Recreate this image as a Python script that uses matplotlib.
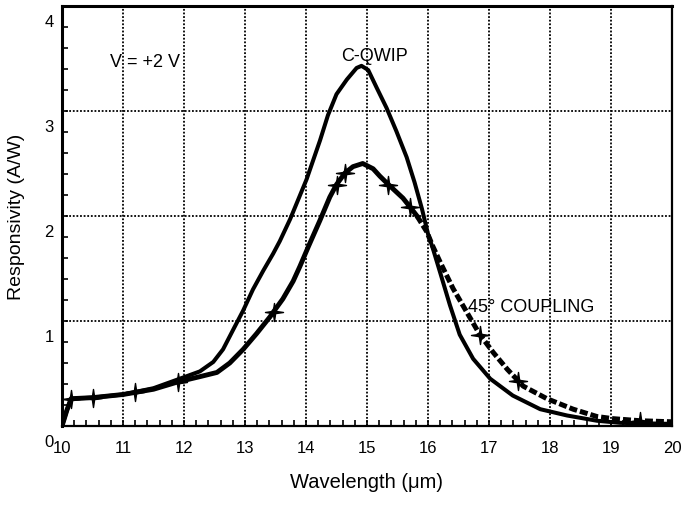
import matplotlib
matplotlib.use("Agg")
import matplotlib.pyplot as plt
import matplotlib.transforms as mtransforms
from matplotlib.path import Path
import numpy as np

plt.rcParams['font.family'] = ['Liberation Sans', 'DejaVu Sans']

# C-QWIP (solid)
cq_x = [10.0, 10.08, 10.15, 10.5, 11.0, 11.5, 11.93, 12.26, 12.48, 12.64, 12.80, 12.97, 13.13,
        13.30, 13.46, 13.57, 13.74, 14.01, 14.23, 14.36, 14.50, 14.67, 14.83, 14.91, 15.02,
        15.16, 15.32, 15.48, 15.65, 15.78, 15.90, 16.0, 16.08, 16.20, 16.36, 16.52, 16.74,
        17.02, 17.39, 17.84, 18.28, 18.77, 19.15, 20.0]
cq_y = [0.0, 0.15, 0.26, 0.27, 0.30, 0.36, 0.45, 0.52, 0.61, 0.73, 0.91, 1.10, 1.30,
        1.48, 1.64, 1.76, 1.97, 2.35, 2.72, 2.96, 3.16, 3.30, 3.41, 3.43, 3.39,
        3.22, 3.03, 2.81, 2.56, 2.32, 2.07, 1.83, 1.69, 1.46, 1.15, 0.87, 0.64,
        0.45, 0.29, 0.16, 0.10, 0.05, 0.03, 0.02]

# 45 deg coupling
cp_x = [10.0, 10.08, 10.15, 10.5, 11.0, 11.2, 11.5, 11.9, 12.26, 12.54, 12.75, 12.97, 13.19,
        13.41, 13.47, 13.62, 13.79, 13.90, 14.04, 14.23, 14.39, 14.5, 14.64, 14.77, 14.93,
        15.10, 15.21, 15.35, 15.59, 15.7, 15.82, 15.98, 16.08, 16.2, 16.41, 16.64, 16.85,
        17.07, 17.30, 17.48, 17.56, 17.95, 18.38, 18.77, 19.03, 19.48, 20.0]
cp_y = [0.0, 0.15, 0.26, 0.27, 0.30, 0.32, 0.35, 0.42, 0.47, 0.51, 0.60, 0.73, 0.88,
        1.04, 1.09, 1.21, 1.38, 1.52, 1.71, 1.96, 2.18, 2.30, 2.41, 2.47, 2.50,
        2.45, 2.38, 2.30, 2.17, 2.09, 2.0, 1.85, 1.71, 1.56, 1.31, 1.08, 0.87,
        0.70, 0.54, 0.43, 0.38, 0.26, 0.16, 0.09, 0.07, 0.05, 0.04]
cp_markers_x = [10.15, 10.5, 11.2, 11.9, 13.47, 14.5, 14.64, 15.35, 15.7, 16.85, 17.48, 19.48]
cp_split_x = 15.82

x_ticks = [10, 11, 12, 13, 14, 15, 16, 17, 18, 19, 20]
y_ticks = [0, 1, 2, 3, 4]

fig = plt.figure(figsize=(6.82, 5.06), dpi=100)
ax = fig.add_axes([62/682, 79/506, (672-62)/682, (427-7)/506])

ax.set_xlim(10, 20)
ax.set_ylim(0, 4)

for xv in x_ticks[1:-1]:
    ax.axvline(xv, color='black', linestyle=(0, (1, 1)), linewidth=1.3, zorder=1)
for yv in y_ticks[1:-1]:
    ax.axhline(yv, color='black', linestyle=(0, (1, 1)), linewidth=1.3, zorder=1)

ax.plot(cq_x, cq_y, color='black', linewidth=2.9, solid_joinstyle='round',
        solid_capstyle='round', zorder=3)

split = cp_x.index(cp_split_x)
mk_idx = [cp_x.index(v) for v in cp_markers_x]
ax.plot(cp_x[:split + 1], cp_y[:split + 1], color='black', linewidth=3.5,
        solid_joinstyle='round', zorder=3)
ax.plot(cp_x[split:], cp_y[split:], color='black', linewidth=3.6,
        linestyle=(0, (1.6, 0.6)), zorder=3)
star = Path.unit_regular_star(4, 0.18)
ax.plot([cp_x[i] for i in mk_idx], [cp_y[i] for i in mk_idx], linestyle='none',
        marker=star, markersize=13, color='black', zorder=4)

ax.set_xticks(x_ticks)
ax.set_yticks(y_ticks)
ax.set_xticks(np.arange(10, 20.01, 0.2), minor=True)
ax.set_yticks(np.arange(0, 4.01, 0.2), minor=True)
ax.tick_params(axis='both', which='major', direction='in', length=4, width=1.2,
               labelsize=12, colors='black')
ax.tick_params(axis='both', which='minor', direction='in', length=4, width=1.2)
ax.tick_params(axis='x', pad=10)
ax.tick_params(axis='y', pad=6)
ax.tick_params(top=False, right=False, which='both')

offset = mtransforms.ScaledTranslation(0, -14/100, fig.dpi_scale_trans)
for lab in ax.get_yticklabels():
    lab.set_transform(lab.get_transform() + offset)

ax.spines['left'].set_linewidth(2.2)
ax.spines['top'].set_linewidth(2.2)
ax.spines['right'].set_linewidth(1.6)
ax.spines['bottom'].set_linewidth(1.6)

ax.set_xlabel('Wavelength (μm)', fontsize=14.5, labelpad=12)
ax.set_ylabel('Responsivity (A/W)', fontsize=14, labelpad=14)

ax.text(11.36, 3.47, 'V = +2 V', fontsize=13, ha='center', va='center')
ax.text(15.13, 3.53, 'C-QWIP', fontsize=13, ha='center', va='center')
ax.text(17.69, 1.14, '45° COUPLING', fontsize=13, ha='center', va='center')

fig.savefig('out.png', dpi=100)
